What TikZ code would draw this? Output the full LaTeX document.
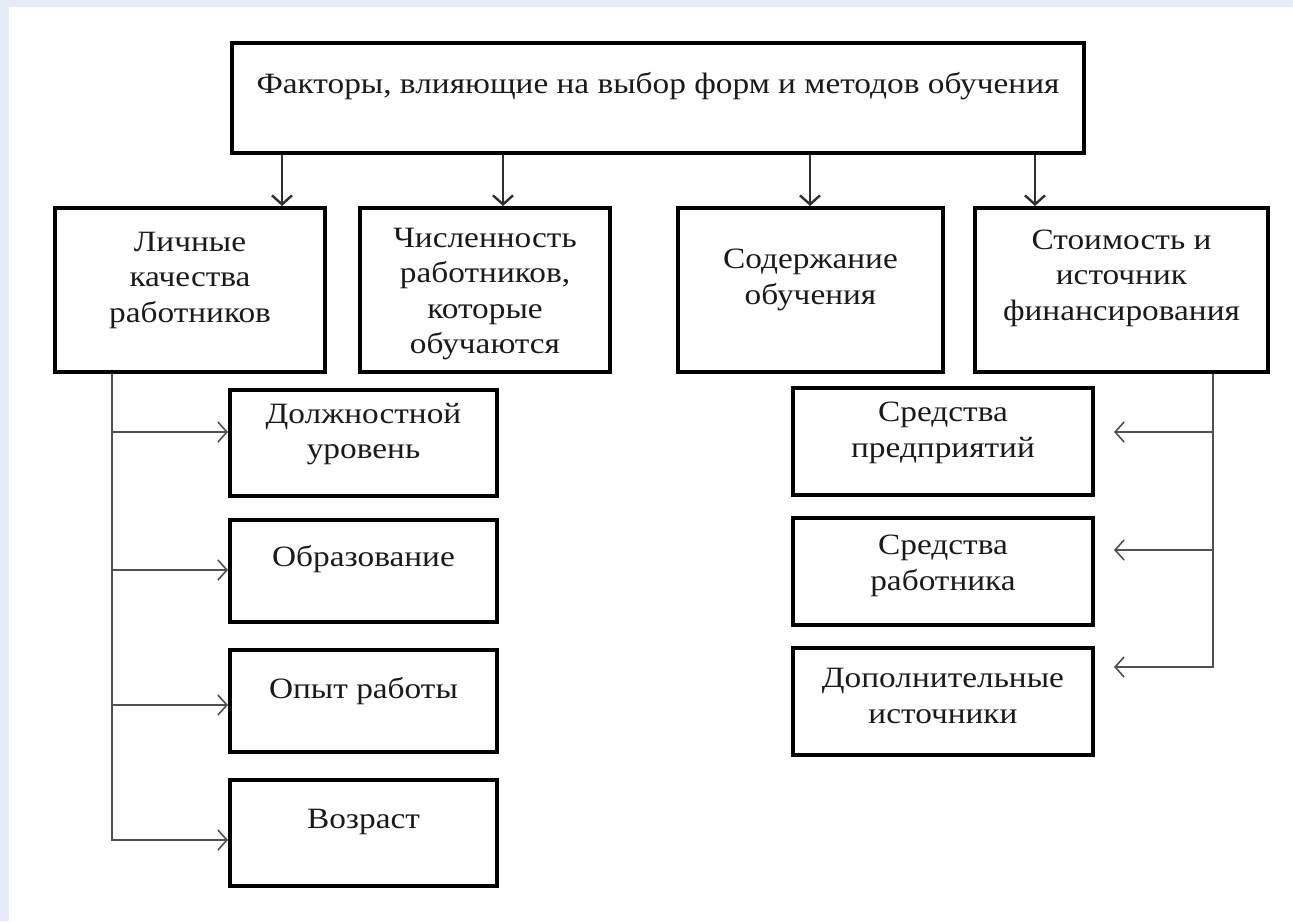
\documentclass[tikz,border=0pt]{standalone}
\usepackage{fontspec}
\setmainfont[FakeStretch=1.13]{Liberation Serif}
\usetikzlibrary{arrows.meta}
\definecolor{bgblue}{HTML}{E6ECF5}
\definecolor{txt}{HTML}{1A1A1A}
\definecolor{topline}{HTML}{2E2E2E}
\definecolor{brline}{HTML}{505050}
\tikzset{
  box/.style={draw=black, line width=4pt, fill=white, inner sep=0pt},
  lbl/.style={text=txt, align=center, font=\fontsize{29.5}{35.5}\selectfont, inner sep=0pt},
  toparr/.style={draw=topline, line width=2.4pt, -{Straight Barb[length=9pt,width=20pt,line width=2.4pt]}},
  brarr/.style={draw=brline, line width=1.6pt, -{Straight Barb[length=9pt,width=20pt,line width=1.6pt]}}
}
\begin{document}
\begin{tikzpicture}[x=1pt,y=-1pt]
\useasboundingbox (0,0) rectangle (1293,921);
\fill[bgblue] (0,0) rectangle (1293,921);
\fill[white] (9,7) rectangle (1293,921);

% top box
\node[box, minimum width=852pt, minimum height=110pt] (top) at (658,98) {};
\node[lbl] (ttop) at (658,86) {Факторы, влияющие на выбор форм и методов обучения};

% row 2
\node[box, minimum width=270pt, minimum height=164pt] (b1) at (190,290) {};
\node[box, minimum width=250pt, minimum height=164pt] (b2) at (485,290) {};
\node[box, minimum width=265pt, minimum height=164pt] (b3) at (810.5,290) {};
\node[box, minimum width=293pt, minimum height=164pt] (b4) at (1121.5,290) {};
\node[lbl] (tb1) at (190,280) {Личные\\качества\\работников};
\node[lbl] (tb2) at (485,294) {Численность\\работников,\\которые\\обучаются};
\node[lbl] (tb3) at (810.5,280) {Содержание\\обучения};
\node[lbl] (tb4) at (1121.5,278) {Стоимость и\\источник\\финансирования};

% left children
\node[box, minimum width=267pt, minimum height=106pt] (c1) at (363.5,443) {};
\node[box, minimum width=267pt, minimum height=102pt] (c2) at (363.5,571) {};
\node[box, minimum width=267pt, minimum height=102pt] (c3) at (363.5,701) {};
\node[box, minimum width=267pt, minimum height=106pt] (c4) at (363.5,833) {};
\node[lbl] (tc1) at (363.5,434) {Должностной\\уровень};
\node[lbl] (tc2) at (363.5,559) {Образование};
\node[lbl] (tc3) at (363.5,691) {Опыт работы};
\node[lbl] (tc4) at (363.5,822) {Возраст};

% right children
\node[box, minimum width=300pt, minimum height=107pt] (d1) at (943,441.5) {};
\node[box, minimum width=300pt, minimum height=107pt] (d2) at (943,571.5) {};
\node[box, minimum width=300pt, minimum height=107pt] (d3) at (943,701.5) {};
\node[lbl] (td1) at (943,433) {Средства\\предприятий};
\node[lbl] (td2) at (943,566) {Средства\\работника};
\node[lbl] (td3) at (943,696) {Дополнительные\\источники};

% top arrows
\draw[toparr] (top.south -| 282,0) -- (b1.north -| 282,0);
\draw[toparr] (top.south -| 503,0) -- (b2.north -| 503,0);
\draw[toparr] (top.south -| 810,0) -- (b3.north -| 810,0);
\draw[toparr] (top.south -| 1035,0) -- (b4.north -| 1035,0);

% left branch
\draw[brarr] (b1.south -| 112,0) |- (c4.west |- 0,840);
\draw[brarr] (112,432) -- (c1.west |- 0,432);
\draw[brarr] (112,570) -- (c2.west |- 0,570);
\draw[brarr] (112,705) -- (c3.west |- 0,705);

% right branch
\draw[brarr, shorten >=19pt] (b4.south -| 1213,0) |- (d3.east |- 0,667);
\draw[brarr, shorten >=19pt] (1213,432) -- (d1.east |- 0,432);
\draw[brarr, shorten >=19pt] (1213,550) -- (d2.east |- 0,550);
\end{tikzpicture}
\end{document}
